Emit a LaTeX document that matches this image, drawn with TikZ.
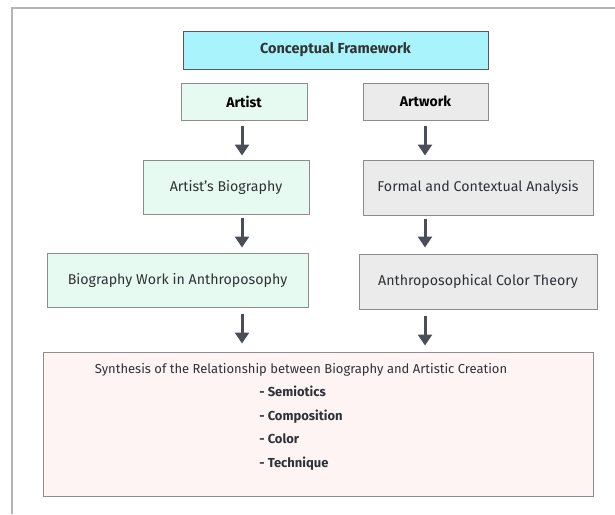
\documentclass[tikz,border=0pt]{standalone}
\usepackage{fontspec}
\setmainfont{Fira Sans}
\usetikzlibrary{arrows.meta}
\definecolor{cfblue}{HTML}{A9F3FD}
\definecolor{artistgreen}{HTML}{E7FAF1}
\definecolor{artworkgray}{HTML}{EBEBEB}
\definecolor{synthpink}{HTML}{FFF4F4}
\definecolor{arrowgray}{HTML}{4A4F57}
\definecolor{framegray}{HTML}{B4B4B4}
\definecolor{textgray}{HTML}{2E3236}
\definecolor{edgegray}{HTML}{8C8C8C}

\begin{document}
\begin{tikzpicture}[x=1pt,y=-1pt,font=\fontsize{14.2}{17}\selectfont,
	box/.style={draw=edgegray,line width=1pt,rectangle,inner sep=0pt,text=textgray},
	headbox/.style={box,fill=cfblue,draw=gray!70!black,text=gray!40!black,font=\fontsize{14.5}{17}\selectfont\bfseries},
	artistbox/.style={box,fill=artistgreen},
	artworkbox/.style={box,fill=artworkgray},
	synthbox/.style={box,fill=synthpink,align=center,font=\fontsize{13}{15}\selectfont},
	flow/.style={draw=arrowgray,line width=3pt,-{Triangle[length=11pt,width=14pt]}}]
	\useasboundingbox (0,0) rectangle (615,514);
	%frame of the page
	\draw[framegray,line width=1.3pt] (12,514) -- (12,8) -- (615,8);
	%columns of the arrows
	\coordinate (lcol) at (242,0);
	\coordinate (rcol) at (425,0);
	
	\node[headbox,minimum width=305pt,minimum height=38pt] (frame) at (335.5,50) {Conceptual Framework};
	
	\node[artistbox,minimum width=126pt,minimum height=37pt,font=\fontsize{14}{17}\selectfont\bfseries,text=black] (artist) at (244,101.5) {Artist};
	\node[artworkbox,minimum width=125pt,minimum height=37pt,font=\fontsize{14}{17}\selectfont\bfseries,text=black] (artwork) at (425.5,101.5) {Artwork};
	
	\node[artistbox,minimum width=166pt,minimum height=54pt] (bio) at (226,187) {Artist's Biography};
	\node[artworkbox,minimum width=230pt,minimum height=55pt] (analysis) at (478,187.5) {Formal and Contextual Analysis};
	
	\node[artistbox,minimum width=261pt,minimum height=54pt] (biowork) at (177.5,280) {Biography Work in Anthroposophy};
	\node[artworkbox,minimum width=238pt,minimum height=55pt] (colortheory) at (478,281.5) {Anthroposophical Color Theory};
	
	%texto de la sintesis, las vinetas alineadas a la izquierda
	\node[synthbox,minimum width=550pt,minimum height=144pt] (synth) at (318,424) {%
		\begin{tabular}{@{}c@{}}
			Synthesis of the Relationship between Biography and Artistic Creation\\[8.5pt]
			\begin{tabular}{@{}l@{}}
				\textbf{- Semiotics}\\[8.5pt]
				\textbf{- Composition}\\[8.5pt]
				\textbf{- Color}\\[8.5pt]
				\textbf{- Technique}\rule[-18pt]{0pt}{18pt}
			\end{tabular}
		\end{tabular}\hspace*{34pt}};
	
	\draw[flow,shorten <=5pt,shorten >=4pt] (artist.south -| lcol) -- (bio.north -| lcol);
	\draw[flow,shorten <=5pt,shorten >=4pt] (artwork.south -| rcol) -- (analysis.north -| rcol);
	\draw[flow,shorten <=3pt,shorten >=5pt] (bio.south -| lcol) -- (biowork.north -| lcol);
	\draw[flow,shorten <=3pt,shorten >=6pt] (analysis.south -| rcol) -- (colortheory.north -| rcol);
	\draw[flow,shorten <=6pt,shorten >=8pt] (biowork.south -| lcol) -- (synth.north -| lcol);
	\draw[flow,shorten <=6pt,shorten >=6pt] (colortheory.south -| rcol) -- (synth.north -| rcol);
\end{tikzpicture}
\end{document}
